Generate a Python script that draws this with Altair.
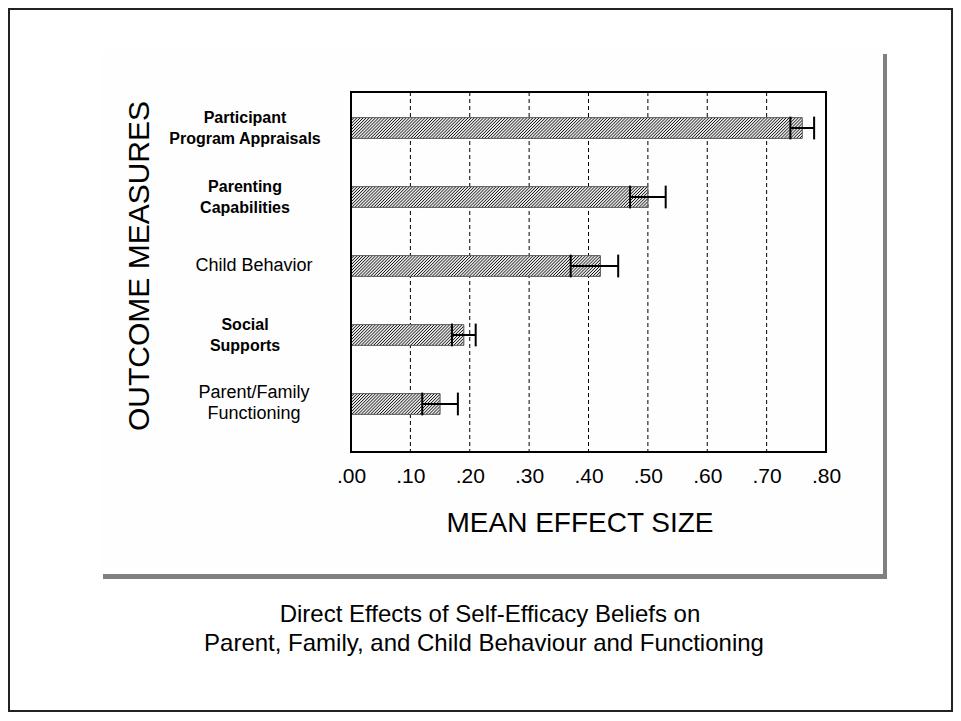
import altair as alt
import pandas as pd

# ---- data ----
categories = [
    "Participant\nProgram Appraisals",
    "Parenting\nCapabilities",
    "Child Behavior",
    "Social\nSupports",
    "Parent/Family\nFunctioning",
]
mean_effect = [0.76, 0.50, 0.42, 0.19, 0.15]
ci_low = [0.74, 0.47, 0.37, 0.17, 0.12]
ci_high = [0.78, 0.53, 0.45, 0.21, 0.18]
tick_values = [0.0, 0.1, 0.2, 0.3, 0.4, 0.5, 0.6, 0.7, 0.8]

x_title = "MEAN EFFECT SIZE"
y_title = "OUTCOME MEASURES"
caption_1 = "Direct Effects of Self-Efficacy Beliefs on"
caption_2 = "Parent, Family, and Child Behaviour and Functioning"

df = pd.DataFrame({
    "category": categories,
    "idx": list(range(1, len(categories) + 1)),
    "value": mean_effect,
    "lo": ci_low,
    "hi": ci_high,
})
ticks_df = pd.DataFrame({"tick": tick_values})
one = pd.DataFrame({"a": [0]})

FONT = "Liberation Sans"
W, H = 475, 360
PAD_L, PAD_T = 343, 84
TOTAL_W, TOTAL_H = 945, 704

xs = alt.Scale(domain=[0, 0.8], nice=False, zero=False)
ys = alt.Scale(domain=[0.478, 5.696], nice=False, zero=False, reverse=True)
xaxis = alt.Axis(
    values=tick_values, grid=False, ticks=False, domain=False, title=None,
    labelExpr="substring(format(datum.value, '.2f'), 1)",
    labelFont=FONT, labelFontSize=21, labelColor="black", labelPadding=13,
    labelFlush=False, zindex=1,
)

def X(f):
    return alt.X(f, scale=xs, axis=xaxis)

def Y(f):
    return alt.Y(f, scale=ys, axis=None)

# page-coordinate helpers (plot origin is at page x=351, y=92)
def px(page_x):
    return page_x - 351

def py(page_y):
    return page_y - 92

base1 = alt.Chart(one)

outer_border = base1.mark_rect(fill="white", fillOpacity=0, stroke="#222", strokeWidth=2).encode(
    x=alt.value(px(9)), x2=alt.value(px(952)), y=alt.value(py(9)), y2=alt.value(py(711))
)
shadow = base1.mark_rect(fill="#808080").encode(
    x=alt.value(px(103)), x2=alt.value(px(887)), y=alt.value(py(54)), y2=alt.value(py(579))
)
panel = base1.mark_rect(fill="#fefefe").encode(
    x=alt.value(px(100)), x2=alt.value(px(883)), y=alt.value(py(50)), y2=alt.value(py(574))
)

grid = alt.Chart(ticks_df).mark_rule(color="black", strokeWidth=1, strokeDash=[4, 3]).encode(
    x=X("tick:Q"), y=alt.value(0), y2=alt.value(H)
).transform_filter("datum.tick > 0 && datum.tick < 0.8")

base = alt.Chart(df).transform_calculate(
    ytop="datum.idx - 0.15", ybot="datum.idx + 0.15", zero="0"
)

bar_fill = base.mark_rect(fill="#e8e8e8").encode(
    x=X("zero:Q"), x2="value:Q", y=Y("ytop:Q"), y2="ybot:Q"
)

hatch = alt.Chart(df).transform_calculate(
    ts="sequence(-0.0349, datum.value, 0.0052)"
).transform_flatten(["ts"], as_=["t"]).transform_calculate(
    ybot="datum.idx + 0.15",
    xa="max(datum.t, 0)",
    xb="min(datum.t + 0.0349, datum.value)",
).transform_calculate(
    ya="datum.ybot - (datum.xa - datum.t) / 0.0349 * 0.3",
    yb="datum.ybot - (datum.xb - datum.t) / 0.0349 * 0.3",
).transform_filter("datum.xb > datum.xa").mark_rule(color="#111", strokeWidth=1).encode(
    x=X("xa:Q"), x2="xb:Q", y=Y("ya:Q"), y2="yb:Q"
)

bar_outline = base.mark_rect(fill="white", fillOpacity=0, stroke="#555", strokeWidth=1).encode(
    x=X("zero:Q"), x2="value:Q", y=Y("ytop:Q"), y2="ybot:Q"
)

err_line = alt.Chart(df).mark_rule(color="black", strokeWidth=2).encode(
    x=X("lo:Q"), x2="hi:Q", y=Y("idx:Q")
)
cap_base = alt.Chart(df).transform_calculate(
    ctop="datum.idx - 0.165", cbot="datum.idx + 0.165"
)
cap_lo = cap_base.mark_rule(color="black", strokeWidth=2).encode(
    x=X("lo:Q"), y=Y("ctop:Q"), y2="cbot:Q"
)
cap_hi = cap_base.mark_rule(color="black", strokeWidth=2).encode(
    x=X("hi:Q"), y=Y("ctop:Q"), y2="cbot:Q"
)

frame = base1.mark_rect(fill="white", fillOpacity=0, stroke="black", strokeWidth=2).encode(
    x=alt.value(0), x2=alt.value(W), y=alt.value(0), y2=alt.value(H)
)

# centre multi-line labels on their bar: shift up by half a line per extra line
label_base = alt.Chart(df).transform_calculate(
    ylab="datum.idx - (length(split(datum.category, '\\n')) - 1) * 0.152"
)
bold_names = [categories[0], categories[1], categories[3]]
labels_bold = label_base.transform_filter(
    alt.FieldOneOfPredicate(field="category", oneOf=bold_names)
).mark_text(font=FONT, fontSize=16, fontWeight="bold", align="center", baseline="middle",
            lineBreak="\n", lineHeight=21, color="black").encode(
    x=alt.value(px(245)), y=Y("ylab:Q"), text="category:N"
)
labels_norm = label_base.transform_filter(
    ~alt.FieldOneOfPredicate(field="category", oneOf=bold_names)
).mark_text(font=FONT, fontSize=18, fontWeight="normal", align="center", baseline="middle",
            lineBreak="\n", lineHeight=21, color="black").encode(
    x=alt.value(px(254)), y=Y("ylab:Q"), text="category:N"
)

xtitle = base1.mark_text(font=FONT, fontSize=28, align="center", baseline="alphabetic", color="black").encode(
    x=alt.value(px(580)), y=alt.value(py(532)), text=alt.value(x_title)
)
ytitle = base1.mark_text(font=FONT, fontSize=30, align="center", baseline="middle", angle=270, color="black").encode(
    x=alt.value(px(140)), y=alt.value(py(266)), text=alt.value(y_title)
)
cap1 = base1.mark_text(font=FONT, fontSize=24, align="center", baseline="alphabetic", color="black").encode(
    x=alt.value(px(490)), y=alt.value(py(622)), text=alt.value(caption_1)
)
cap2 = base1.mark_text(font=FONT, fontSize=24, align="center", baseline="alphabetic", color="black").encode(
    x=alt.value(px(484)), y=alt.value(py(651)), text=alt.value(caption_2)
)

chart = alt.layer(
    outer_border, shadow, panel, grid, bar_fill, hatch, bar_outline,
    err_line, cap_lo, cap_hi, frame, labels_bold, labels_norm,
    xtitle, ytitle, cap1, cap2,
).properties(
    width=W, height=H,
    padding={"left": PAD_L, "top": PAD_T, "right": TOTAL_W - PAD_L - W, "bottom": TOTAL_H - PAD_T - H},
    autosize=alt.AutoSizeParams(type="none"),
    background="white",
).configure_view(stroke=None)

chart.save("out.html", embed_options={"renderer": "svg", "actions": False})
